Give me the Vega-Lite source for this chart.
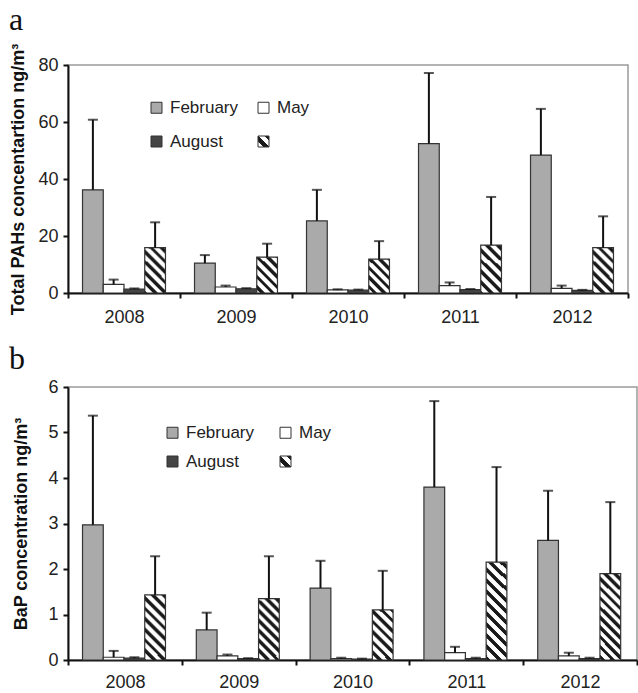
{
  "$schema": "https://vega.github.io/schema/vega-lite/v6.json",
  "background": "white",
  "padding": {"left": 8, "top": 3, "right": 0, "bottom": 0},
  "config": {
    "font": "Liberation Sans",
    "view": {"stroke": "#9a9a9a", "strokeWidth": 1.5},
    "axis": {"labelFont": "Liberation Sans", "labelFontSize": 18, "labelColor": "#222", "domainColor": "#111", "domainWidth": 2, "tickColor": "#111", "tickWidth": 2, "tickSize": 5, "grid": false, "titleFont": "Liberation Sans", "titleFontSize": 18, "titleFontWeight": "bold", "titleColor": "#111"},
    "title": {"font": "Liberation Serif", "fontSize": 32, "fontWeight": "normal", "color": "#111", "anchor": "start", "frame": "group"},
    "concat": {"spacing": 15}
  },
  "datasets": {
    "pahs": [
      {"year": "2008", "month": "February", "value": 36.2, "err": 60.8},
      {"year": "2008", "month": "May", "value": 3.0, "err": 4.7},
      {"year": "2008", "month": "August", "value": 1.4, "err": 1.6},
      {"year": "2008", "month": "November", "value": 15.9, "err": 24.8},
      {"year": "2009", "month": "February", "value": 10.5, "err": 13.3},
      {"year": "2009", "month": "May", "value": 2.1, "err": 2.6},
      {"year": "2009", "month": "August", "value": 1.5, "err": 1.7},
      {"year": "2009", "month": "November", "value": 12.6, "err": 17.3},
      {"year": "2010", "month": "February", "value": 25.3, "err": 36.2},
      {"year": "2010", "month": "May", "value": 1.1, "err": 1.3},
      {"year": "2010", "month": "August", "value": 1.0, "err": 1.2},
      {"year": "2010", "month": "November", "value": 11.9, "err": 18.2},
      {"year": "2011", "month": "February", "value": 52.4, "err": 77.2},
      {"year": "2011", "month": "May", "value": 2.6, "err": 3.7},
      {"year": "2011", "month": "August", "value": 1.2, "err": 1.4},
      {"year": "2011", "month": "November", "value": 16.8, "err": 33.7},
      {"year": "2012", "month": "February", "value": 48.4, "err": 64.6},
      {"year": "2012", "month": "May", "value": 1.6, "err": 2.6},
      {"year": "2012", "month": "August", "value": 0.9, "err": 1.1},
      {"year": "2012", "month": "November", "value": 15.9, "err": 26.9}
    ],
    "bap": [
      {"year": "2008", "month": "February", "value": 2.97, "err": 5.37},
      {"year": "2008", "month": "May", "value": 0.06, "err": 0.2},
      {"year": "2008", "month": "August", "value": 0.04, "err": 0.06},
      {"year": "2008", "month": "November", "value": 1.43, "err": 2.28},
      {"year": "2009", "month": "February", "value": 0.66, "err": 1.04},
      {"year": "2009", "month": "May", "value": 0.09, "err": 0.12},
      {"year": "2009", "month": "August", "value": 0.03, "err": 0.04},
      {"year": "2009", "month": "November", "value": 1.35, "err": 2.28},
      {"year": "2010", "month": "February", "value": 1.58, "err": 2.18},
      {"year": "2010", "month": "May", "value": 0.03, "err": 0.05},
      {"year": "2010", "month": "August", "value": 0.02, "err": 0.03},
      {"year": "2010", "month": "November", "value": 1.1, "err": 1.96},
      {"year": "2011", "month": "February", "value": 3.8, "err": 5.69},
      {"year": "2011", "month": "May", "value": 0.16, "err": 0.29},
      {"year": "2011", "month": "August", "value": 0.03, "err": 0.05},
      {"year": "2011", "month": "November", "value": 2.15, "err": 4.24},
      {"year": "2012", "month": "February", "value": 2.63, "err": 3.72},
      {"year": "2012", "month": "May", "value": 0.09, "err": 0.16},
      {"year": "2012", "month": "August", "value": 0.03, "err": 0.05},
      {"year": "2012", "month": "November", "value": 1.9, "err": 3.47}
    ]
  },
  "resolve": {"scale": {"stroke": "independent"}, "legend": {"stroke": "independent"}},
  "vconcat": [
    {
      "width": 560,
      "height": 228,
      "title": {"text": "a", "dx": -59, "offset": 6},
      "data": {"name": "pahs"},
      "encoding": {
        "x": {"field": "year", "type": "nominal", "scale": {"paddingInner": 0, "paddingOuter": 0}, "axis": {"title": null, "labelAngle": 0, "tickBand": "extent", "labelPadding": 10}},
        "xOffset": {"field": "month", "type": "nominal", "sort": ["February", "May", "August", "November"], "scale": {"paddingInner": 0, "paddingOuter": 0.7}}
      },
      "layer": [
        {
          "mark": {"type": "bar", "strokeWidth": 1.2},
          "encoding": {
            "y": {"field": "value", "type": "quantitative", "scale": {"domain": [0, 80]}, "axis": {"title": "Total PAHs concentartion ng/m³", "values": [0, 20, 40, 60, 80], "labelPadding": 5, "titleX": -50, "titleY": 114, "titleAngle": -90, "titleAlign": "center", "titleBaseline": "middle"}},
            "fill": {
              "condition": [
                {"test": "datum.month === 'November' && datum.value < 14", "value": {"gradient": "radial", "x1": -20, "y1": 21, "r1": 28.2, "x2": -20, "y2": 21, "r2": 29.8, "stops": [
                  {"offset": 0, "color": "#ffffff"}, {"offset": 0.069, "color": "#ffffff"}, {"offset": 0.069, "color": "#1a1a1a"}, {"offset": 0.125, "color": "#1a1a1a"},
                  {"offset": 0.125, "color": "#ffffff"}, {"offset": 0.194, "color": "#ffffff"}, {"offset": 0.194, "color": "#1a1a1a"}, {"offset": 0.25, "color": "#1a1a1a"},
                  {"offset": 0.25, "color": "#ffffff"}, {"offset": 0.319, "color": "#ffffff"}, {"offset": 0.319, "color": "#1a1a1a"}, {"offset": 0.375, "color": "#1a1a1a"},
                  {"offset": 0.375, "color": "#ffffff"}, {"offset": 0.444, "color": "#ffffff"}, {"offset": 0.444, "color": "#1a1a1a"}, {"offset": 0.5, "color": "#1a1a1a"},
                  {"offset": 0.5, "color": "#ffffff"}, {"offset": 0.569, "color": "#ffffff"}, {"offset": 0.569, "color": "#1a1a1a"}, {"offset": 0.625, "color": "#1a1a1a"},
                  {"offset": 0.625, "color": "#ffffff"}, {"offset": 0.694, "color": "#ffffff"}, {"offset": 0.694, "color": "#1a1a1a"}, {"offset": 0.75, "color": "#1a1a1a"},
                  {"offset": 0.75, "color": "#ffffff"}, {"offset": 0.819, "color": "#ffffff"}, {"offset": 0.819, "color": "#1a1a1a"}, {"offset": 0.875, "color": "#1a1a1a"},
                  {"offset": 0.875, "color": "#ffffff"}, {"offset": 0.944, "color": "#ffffff"}, {"offset": 0.944, "color": "#1a1a1a"}, {"offset": 1, "color": "#1a1a1a"}
                ]}},
                {"test": "datum.month === 'November'", "value": {"gradient": "radial", "x1": -20, "y1": 21, "r1": 28.2, "x2": -20, "y2": 21, "r2": 29.8, "stops": [
                  {"offset": 0, "color": "#ffffff"}, {"offset": 0.055, "color": "#ffffff"}, {"offset": 0.055, "color": "#1a1a1a"}, {"offset": 0.1, "color": "#1a1a1a"},
                  {"offset": 0.1, "color": "#ffffff"}, {"offset": 0.155, "color": "#ffffff"}, {"offset": 0.155, "color": "#1a1a1a"}, {"offset": 0.2, "color": "#1a1a1a"},
                  {"offset": 0.2, "color": "#ffffff"}, {"offset": 0.255, "color": "#ffffff"}, {"offset": 0.255, "color": "#1a1a1a"}, {"offset": 0.3, "color": "#1a1a1a"},
                  {"offset": 0.3, "color": "#ffffff"}, {"offset": 0.355, "color": "#ffffff"}, {"offset": 0.355, "color": "#1a1a1a"}, {"offset": 0.4, "color": "#1a1a1a"},
                  {"offset": 0.4, "color": "#ffffff"}, {"offset": 0.455, "color": "#ffffff"}, {"offset": 0.455, "color": "#1a1a1a"}, {"offset": 0.5, "color": "#1a1a1a"},
                  {"offset": 0.5, "color": "#ffffff"}, {"offset": 0.555, "color": "#ffffff"}, {"offset": 0.555, "color": "#1a1a1a"}, {"offset": 0.6, "color": "#1a1a1a"},
                  {"offset": 0.6, "color": "#ffffff"}, {"offset": 0.655, "color": "#ffffff"}, {"offset": 0.655, "color": "#1a1a1a"}, {"offset": 0.7, "color": "#1a1a1a"},
                  {"offset": 0.7, "color": "#ffffff"}, {"offset": 0.755, "color": "#ffffff"}, {"offset": 0.755, "color": "#1a1a1a"}, {"offset": 0.8, "color": "#1a1a1a"},
                  {"offset": 0.8, "color": "#ffffff"}, {"offset": 0.855, "color": "#ffffff"}, {"offset": 0.855, "color": "#1a1a1a"}, {"offset": 0.9, "color": "#1a1a1a"},
                  {"offset": 0.9, "color": "#ffffff"}, {"offset": 0.955, "color": "#ffffff"}, {"offset": 0.955, "color": "#1a1a1a"}, {"offset": 1, "color": "#1a1a1a"}
                ]}},
                {"test": "datum.month === 'February'", "value": "#a9aaa9"},
                {"test": "datum.month === 'May'", "value": "#ffffff"}
              ],
              "value": "#454545"
            },
            "stroke": {
              "field": "month", "type": "nominal",
              "scale": {"domain": ["February", "August", "May", "November"], "range": ["#333333", "#333333", "#333333", "#333333"]},
              "legend": {
                "title": null, "orient": "none", "legendX": 80, "legendY": 34, "columns": 2, "columnPadding": 16, "rowPadding": 16, "padding": 0,
                "symbolType": "square", "symbolSize": 121, "symbolStrokeWidth": 1,
                "labelFont": "Liberation Sans", "labelFontSize": 17, "labelColor": "#222", "labelOffset": 5,
                "labelExpr": "datum.label === 'November' ? '' : datum.label",
                "encoding": {"symbols": {
                  "strokeWidth": {"value": 1},
                  "fill": {"condition": [
                    {"test": "datum.value === 'November'", "value": {"gradient": "radial", "x1": -20, "y1": 21, "r1": 28.2, "x2": -20, "y2": 21, "r2": 29.8, "stops": [
                      {"offset": 0, "color": "#ffffff"}, {"offset": 0.275, "color": "#ffffff"}, {"offset": 0.275, "color": "#1a1a1a"}, {"offset": 0.5, "color": "#1a1a1a"},
                      {"offset": 0.5, "color": "#ffffff"}, {"offset": 0.775, "color": "#ffffff"}, {"offset": 0.775, "color": "#1a1a1a"}, {"offset": 1, "color": "#1a1a1a"}
                    ]}},
                    {"test": "datum.value === 'February'", "value": "#a9aaa9"},
                    {"test": "datum.value === 'May'", "value": "#ffffff"}
                  ], "value": "#454545"}
                }}
              }
            }
          }
        },
        {
          "mark": {"type": "rule", "color": "#111", "strokeWidth": 2},
          "encoding": {
            "y": {"field": "value", "type": "quantitative", "title": "Total PAHs concentartion ng/m³"},
            "y2": {"field": "err"}
          }
        },
        {
          "mark": {"type": "tick", "color": "#111", "thickness": 2, "size": 10, "orient": "horizontal"},
          "encoding": {
            "y": {"field": "err", "type": "quantitative", "title": "Total PAHs concentartion ng/m³"}
          }
        }
      ]
    },
    {
      "width": 569,
      "height": 273,
      "title": {"text": "b", "dx": -59, "offset": 2},
      "data": {"name": "bap"},
      "encoding": {
        "x": {"field": "year", "type": "nominal", "scale": {"paddingInner": 0, "paddingOuter": 0}, "axis": {"title": null, "labelAngle": 0, "tickBand": "extent", "labelPadding": 8}},
        "xOffset": {"field": "month", "type": "nominal", "sort": ["February", "May", "August", "November"], "scale": {"paddingInner": 0, "paddingOuter": 0.7}}
      },
      "layer": [
        {
          "mark": {"type": "bar", "strokeWidth": 1.2},
          "encoding": {
            "y": {"field": "value", "type": "quantitative", "scale": {"domain": [0, 6]}, "axis": {"title": "BaP concentration ng/m³", "values": [0, 1, 2, 3, 4, 5, 6], "labelPadding": 5, "titleX": -47, "titleY": 136.5, "titleAngle": -90, "titleAlign": "center", "titleBaseline": "middle"}},
            "fill": {
              "condition": [
                {"test": "datum.month === 'November' && datum.value < 1.2", "value": {"gradient": "radial", "x1": -20, "y1": 21, "r1": 28.2, "x2": -20, "y2": 21, "r2": 29.8, "stops": [
                  {"offset": 0, "color": "#ffffff"}, {"offset": 0.05, "color": "#ffffff"}, {"offset": 0.05, "color": "#1a1a1a"}, {"offset": 0.0909, "color": "#1a1a1a"},
                  {"offset": 0.0909, "color": "#ffffff"}, {"offset": 0.1409, "color": "#ffffff"}, {"offset": 0.1409, "color": "#1a1a1a"}, {"offset": 0.1818, "color": "#1a1a1a"},
                  {"offset": 0.1818, "color": "#ffffff"}, {"offset": 0.2318, "color": "#ffffff"}, {"offset": 0.2318, "color": "#1a1a1a"}, {"offset": 0.2727, "color": "#1a1a1a"},
                  {"offset": 0.2727, "color": "#ffffff"}, {"offset": 0.3227, "color": "#ffffff"}, {"offset": 0.3227, "color": "#1a1a1a"}, {"offset": 0.3636, "color": "#1a1a1a"},
                  {"offset": 0.3636, "color": "#ffffff"}, {"offset": 0.4136, "color": "#ffffff"}, {"offset": 0.4136, "color": "#1a1a1a"}, {"offset": 0.4545, "color": "#1a1a1a"},
                  {"offset": 0.4545, "color": "#ffffff"}, {"offset": 0.5045, "color": "#ffffff"}, {"offset": 0.5045, "color": "#1a1a1a"}, {"offset": 0.5455, "color": "#1a1a1a"},
                  {"offset": 0.5455, "color": "#ffffff"}, {"offset": 0.5955, "color": "#ffffff"}, {"offset": 0.5955, "color": "#1a1a1a"}, {"offset": 0.6364, "color": "#1a1a1a"},
                  {"offset": 0.6364, "color": "#ffffff"}, {"offset": 0.6864, "color": "#ffffff"}, {"offset": 0.6864, "color": "#1a1a1a"}, {"offset": 0.7273, "color": "#1a1a1a"},
                  {"offset": 0.7273, "color": "#ffffff"}, {"offset": 0.7773, "color": "#ffffff"}, {"offset": 0.7773, "color": "#1a1a1a"}, {"offset": 0.8182, "color": "#1a1a1a"},
                  {"offset": 0.8182, "color": "#ffffff"}, {"offset": 0.8682, "color": "#ffffff"}, {"offset": 0.8682, "color": "#1a1a1a"}, {"offset": 0.9091, "color": "#1a1a1a"},
                  {"offset": 0.9091, "color": "#ffffff"}, {"offset": 0.9591, "color": "#ffffff"}, {"offset": 0.9591, "color": "#1a1a1a"}, {"offset": 1, "color": "#1a1a1a"}
                ]}},
                {"test": "datum.month === 'November' && datum.value < 1.6", "value": {"gradient": "radial", "x1": -20, "y1": 21, "r1": 28.2, "x2": -20, "y2": 21, "r2": 29.8, "stops": [
                  {"offset": 0, "color": "#ffffff"}, {"offset": 0.0393, "color": "#ffffff"}, {"offset": 0.0393, "color": "#1a1a1a"}, {"offset": 0.0714, "color": "#1a1a1a"},
                  {"offset": 0.0714, "color": "#ffffff"}, {"offset": 0.1107, "color": "#ffffff"}, {"offset": 0.1107, "color": "#1a1a1a"}, {"offset": 0.1429, "color": "#1a1a1a"},
                  {"offset": 0.1429, "color": "#ffffff"}, {"offset": 0.1822, "color": "#ffffff"}, {"offset": 0.1822, "color": "#1a1a1a"}, {"offset": 0.2143, "color": "#1a1a1a"},
                  {"offset": 0.2143, "color": "#ffffff"}, {"offset": 0.2536, "color": "#ffffff"}, {"offset": 0.2536, "color": "#1a1a1a"}, {"offset": 0.2857, "color": "#1a1a1a"},
                  {"offset": 0.2857, "color": "#ffffff"}, {"offset": 0.325, "color": "#ffffff"}, {"offset": 0.325, "color": "#1a1a1a"}, {"offset": 0.3571, "color": "#1a1a1a"},
                  {"offset": 0.3571, "color": "#ffffff"}, {"offset": 0.3964, "color": "#ffffff"}, {"offset": 0.3964, "color": "#1a1a1a"}, {"offset": 0.4286, "color": "#1a1a1a"},
                  {"offset": 0.4286, "color": "#ffffff"}, {"offset": 0.4679, "color": "#ffffff"}, {"offset": 0.4679, "color": "#1a1a1a"}, {"offset": 0.5, "color": "#1a1a1a"},
                  {"offset": 0.5, "color": "#ffffff"}, {"offset": 0.5393, "color": "#ffffff"}, {"offset": 0.5393, "color": "#1a1a1a"}, {"offset": 0.5714, "color": "#1a1a1a"},
                  {"offset": 0.5714, "color": "#ffffff"}, {"offset": 0.6107, "color": "#ffffff"}, {"offset": 0.6107, "color": "#1a1a1a"}, {"offset": 0.6429, "color": "#1a1a1a"},
                  {"offset": 0.6429, "color": "#ffffff"}, {"offset": 0.6822, "color": "#ffffff"}, {"offset": 0.6822, "color": "#1a1a1a"}, {"offset": 0.7143, "color": "#1a1a1a"},
                  {"offset": 0.7143, "color": "#ffffff"}, {"offset": 0.7536, "color": "#ffffff"}, {"offset": 0.7536, "color": "#1a1a1a"}, {"offset": 0.7857, "color": "#1a1a1a"},
                  {"offset": 0.7857, "color": "#ffffff"}, {"offset": 0.825, "color": "#ffffff"}, {"offset": 0.825, "color": "#1a1a1a"}, {"offset": 0.8571, "color": "#1a1a1a"},
                  {"offset": 0.8571, "color": "#ffffff"}, {"offset": 0.8964, "color": "#ffffff"}, {"offset": 0.8964, "color": "#1a1a1a"}, {"offset": 0.9286, "color": "#1a1a1a"},
                  {"offset": 0.9286, "color": "#ffffff"}, {"offset": 0.9679, "color": "#ffffff"}, {"offset": 0.9679, "color": "#1a1a1a"}, {"offset": 1, "color": "#1a1a1a"}
                ]}},
                {"test": "datum.month === 'November'", "value": {"gradient": "radial", "x1": -20, "y1": 21, "r1": 28.2, "x2": -20, "y2": 21, "r2": 29.8, "stops": [
                  {"offset": 0, "color": "#ffffff"}, {"offset": 0.0275, "color": "#ffffff"}, {"offset": 0.0275, "color": "#1a1a1a"}, {"offset": 0.05, "color": "#1a1a1a"},
                  {"offset": 0.05, "color": "#ffffff"}, {"offset": 0.0775, "color": "#ffffff"}, {"offset": 0.0775, "color": "#1a1a1a"}, {"offset": 0.1, "color": "#1a1a1a"},
                  {"offset": 0.1, "color": "#ffffff"}, {"offset": 0.1275, "color": "#ffffff"}, {"offset": 0.1275, "color": "#1a1a1a"}, {"offset": 0.15, "color": "#1a1a1a"},
                  {"offset": 0.15, "color": "#ffffff"}, {"offset": 0.1775, "color": "#ffffff"}, {"offset": 0.1775, "color": "#1a1a1a"}, {"offset": 0.2, "color": "#1a1a1a"},
                  {"offset": 0.2, "color": "#ffffff"}, {"offset": 0.2275, "color": "#ffffff"}, {"offset": 0.2275, "color": "#1a1a1a"}, {"offset": 0.25, "color": "#1a1a1a"},
                  {"offset": 0.25, "color": "#ffffff"}, {"offset": 0.2775, "color": "#ffffff"}, {"offset": 0.2775, "color": "#1a1a1a"}, {"offset": 0.3, "color": "#1a1a1a"},
                  {"offset": 0.3, "color": "#ffffff"}, {"offset": 0.3275, "color": "#ffffff"}, {"offset": 0.3275, "color": "#1a1a1a"}, {"offset": 0.35, "color": "#1a1a1a"},
                  {"offset": 0.35, "color": "#ffffff"}, {"offset": 0.3775, "color": "#ffffff"}, {"offset": 0.3775, "color": "#1a1a1a"}, {"offset": 0.4, "color": "#1a1a1a"},
                  {"offset": 0.4, "color": "#ffffff"}, {"offset": 0.4275, "color": "#ffffff"}, {"offset": 0.4275, "color": "#1a1a1a"}, {"offset": 0.45, "color": "#1a1a1a"},
                  {"offset": 0.45, "color": "#ffffff"}, {"offset": 0.4775, "color": "#ffffff"}, {"offset": 0.4775, "color": "#1a1a1a"}, {"offset": 0.5, "color": "#1a1a1a"},
                  {"offset": 0.5, "color": "#ffffff"}, {"offset": 0.5275, "color": "#ffffff"}, {"offset": 0.5275, "color": "#1a1a1a"}, {"offset": 0.55, "color": "#1a1a1a"},
                  {"offset": 0.55, "color": "#ffffff"}, {"offset": 0.5775, "color": "#ffffff"}, {"offset": 0.5775, "color": "#1a1a1a"}, {"offset": 0.6, "color": "#1a1a1a"},
                  {"offset": 0.6, "color": "#ffffff"}, {"offset": 0.6275, "color": "#ffffff"}, {"offset": 0.6275, "color": "#1a1a1a"}, {"offset": 0.65, "color": "#1a1a1a"},
                  {"offset": 0.65, "color": "#ffffff"}, {"offset": 0.6775, "color": "#ffffff"}, {"offset": 0.6775, "color": "#1a1a1a"}, {"offset": 0.7, "color": "#1a1a1a"},
                  {"offset": 0.7, "color": "#ffffff"}, {"offset": 0.7275, "color": "#ffffff"}, {"offset": 0.7275, "color": "#1a1a1a"}, {"offset": 0.75, "color": "#1a1a1a"},
                  {"offset": 0.75, "color": "#ffffff"}, {"offset": 0.7775, "color": "#ffffff"}, {"offset": 0.7775, "color": "#1a1a1a"}, {"offset": 0.8, "color": "#1a1a1a"},
                  {"offset": 0.8, "color": "#ffffff"}, {"offset": 0.8275, "color": "#ffffff"}, {"offset": 0.8275, "color": "#1a1a1a"}, {"offset": 0.85, "color": "#1a1a1a"},
                  {"offset": 0.85, "color": "#ffffff"}, {"offset": 0.8775, "color": "#ffffff"}, {"offset": 0.8775, "color": "#1a1a1a"}, {"offset": 0.9, "color": "#1a1a1a"},
                  {"offset": 0.9, "color": "#ffffff"}, {"offset": 0.9275, "color": "#ffffff"}, {"offset": 0.9275, "color": "#1a1a1a"}, {"offset": 0.95, "color": "#1a1a1a"},
                  {"offset": 0.95, "color": "#ffffff"}, {"offset": 0.9775, "color": "#ffffff"}, {"offset": 0.9775, "color": "#1a1a1a"}, {"offset": 1, "color": "#1a1a1a"}
                ]}},
                {"test": "datum.month === 'February'", "value": "#a9aaa9"},
                {"test": "datum.month === 'May'", "value": "#ffffff"}
              ],
              "value": "#454545"
            },
            "stroke": {
              "field": "month", "type": "nominal",
              "scale": {"domain": ["February", "August", "May", "November"], "range": ["#333333", "#333333", "#333333", "#333333"]},
              "legend": {
                "title": null, "orient": "none", "legendX": 96, "legendY": 37, "columns": 2, "columnPadding": 22, "rowPadding": 11, "padding": 0,
                "symbolType": "square", "symbolSize": 121, "symbolStrokeWidth": 1,
                "labelFont": "Liberation Sans", "labelFontSize": 17, "labelColor": "#222", "labelOffset": 5,
                "labelExpr": "datum.label === 'November' ? '' : datum.label",
                "encoding": {"symbols": {
                  "strokeWidth": {"value": 1},
                  "fill": {"condition": [
                    {"test": "datum.value === 'November'", "value": {"gradient": "radial", "x1": -20, "y1": 21, "r1": 28.2, "x2": -20, "y2": 21, "r2": 29.8, "stops": [
                      {"offset": 0, "color": "#ffffff"}, {"offset": 0.275, "color": "#ffffff"}, {"offset": 0.275, "color": "#1a1a1a"}, {"offset": 0.5, "color": "#1a1a1a"},
                      {"offset": 0.5, "color": "#ffffff"}, {"offset": 0.775, "color": "#ffffff"}, {"offset": 0.775, "color": "#1a1a1a"}, {"offset": 1, "color": "#1a1a1a"}
                    ]}},
                    {"test": "datum.value === 'February'", "value": "#a9aaa9"},
                    {"test": "datum.value === 'May'", "value": "#ffffff"}
                  ], "value": "#454545"}
                }}
              }
            }
          }
        },
        {
          "mark": {"type": "rule", "color": "#111", "strokeWidth": 2},
          "encoding": {
            "y": {"field": "value", "type": "quantitative", "title": "BaP concentration ng/m³"},
            "y2": {"field": "err"}
          }
        },
        {
          "mark": {"type": "tick", "color": "#111", "thickness": 2, "size": 10, "orient": "horizontal"},
          "encoding": {
            "y": {"field": "err", "type": "quantitative", "title": "BaP concentration ng/m³"}
          }
        }
      ]
    }
  ]
}
